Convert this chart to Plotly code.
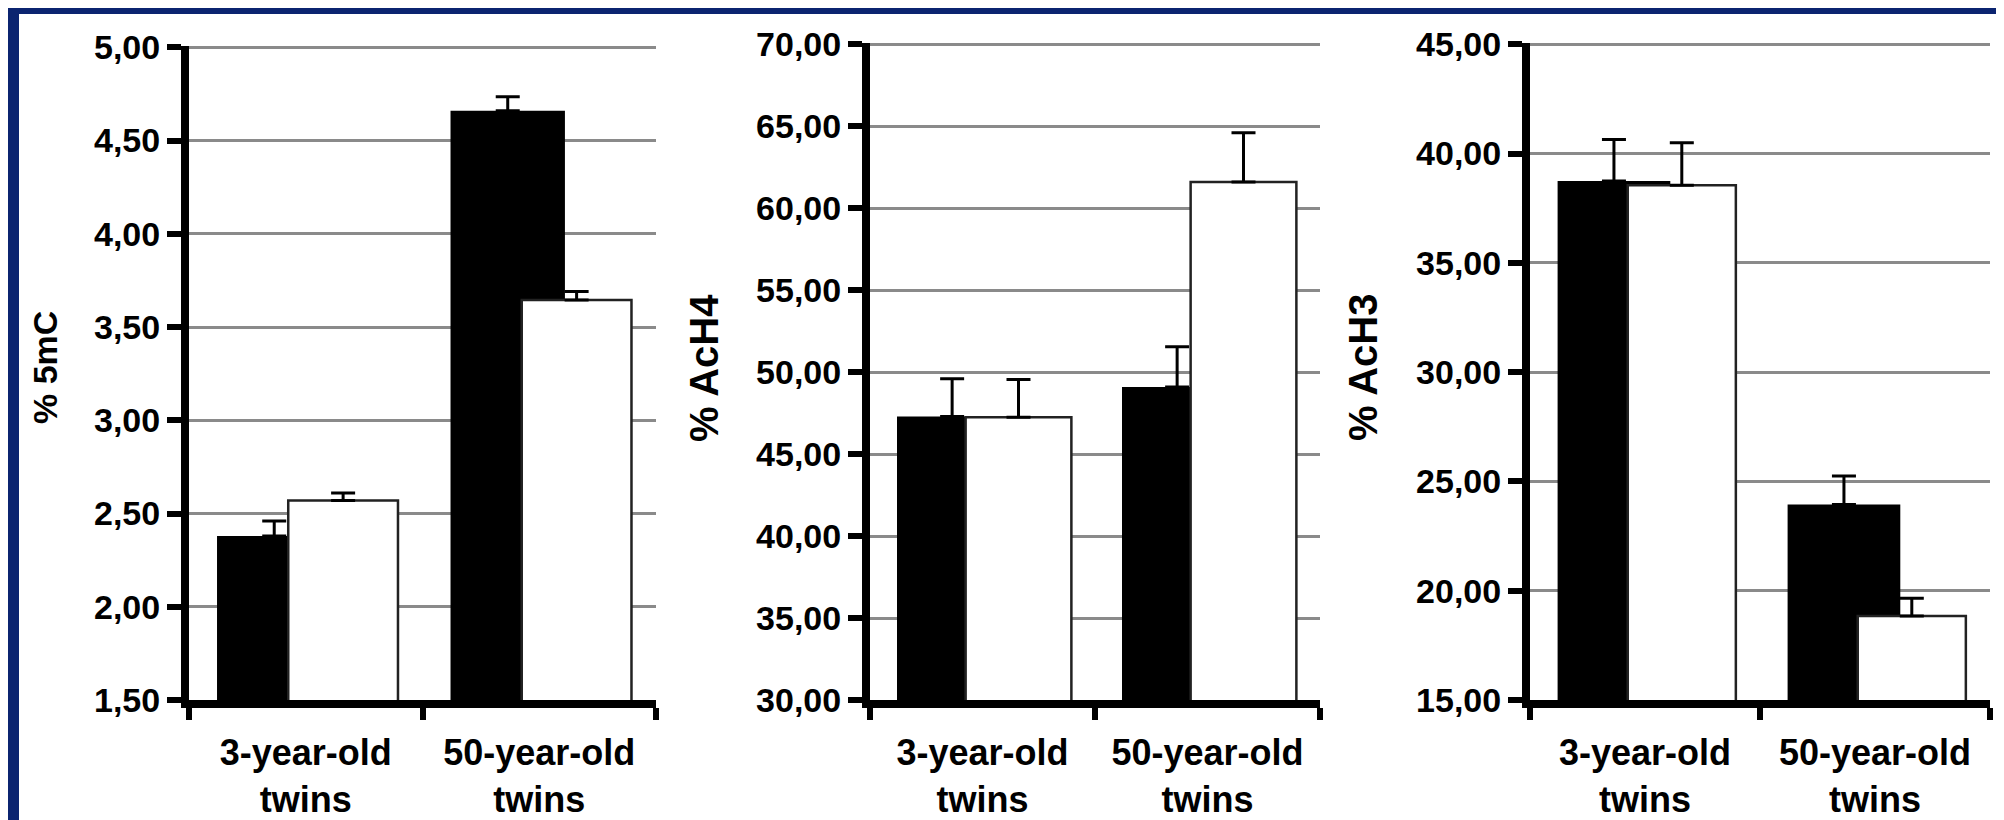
import plotly.graph_objects as go

categories = ["3-year-old<br>twins", "50-year-old<br>twins"]

mc_black = [2.38, 4.66]
mc_black_err = [0.08, 0.075]
mc_white = [2.57, 3.645]
mc_white_err = [0.04, 0.045]

ach4_black = [47.3, 49.1]
ach4_black_err = [2.3, 2.45]
ach4_white = [47.25, 61.6]
ach4_white_err = [2.3, 3.0]

ach3_black = [38.75, 23.95]
ach3_black_err = [1.9, 1.3]
ach3_white = [38.55, 18.84]
ach3_white_err = [1.95, 0.82]

y_titles = ["% 5mC", "% AcH4", "% AcH3"]
y_title_sizes = [34, 40, 40]
y_ranges = [[1.5, 5.0], [30, 70], [15, 45]]
y_dticks = [0.5, 5, 5]

W, H = 2004, 820
FONT = "Liberation Sans, Arial, sans-serif"
NAVY = "#0B2470"

# plot-area boxes in pixels: left, right, top, bottom
boxes = [(181, 648, 38, 692), (862, 1312, 35, 692), (1522, 1982, 35, 692)]
title_x = [37, 696, 1355]

series = [
    (mc_black, mc_black_err, mc_white, mc_white_err),
    (ach4_black, ach4_black_err, ach4_white, ach4_white_err),
    (ach3_black, ach3_black_err, ach3_white, ach3_white_err),
]

fig = go.Figure()
layout = {}
annotations = []
for i, (bv, be, wv, we) in enumerate(series):
    n = "" if i == 0 else str(i + 1)
    xa, ya = "x" + n, "y" + n
    fig.add_trace(go.Bar(
        x=categories, y=bv, xaxis=xa, yaxis=ya,
        offset=-0.38, width=0.49,
        marker=dict(color="black", line=dict(color="black", width=0)),
        error_y=dict(type="data", array=be, arrayminus=[0] * len(be), symmetric=False,
                     color="black", thickness=3, width=12),
        showlegend=False,
    ))
    fig.add_trace(go.Bar(
        x=categories, y=wv, xaxis=xa, yaxis=ya,
        offset=-0.075, width=0.47,
        marker=dict(color="white", line=dict(color="#222222", width=2.5)),
        error_y=dict(type="data", array=we, arrayminus=[0] * len(we), symmetric=False,
                     color="black", thickness=3, width=12),
        showlegend=False,
    ))
    l, r, t, b = boxes[i]
    layout["xaxis" + n] = dict(
        domain=[l / W, r / W], anchor=ya, type="category",
        showline=True, linecolor="black", linewidth=8,
        ticks="outside", tickson="boundaries", ticklen=12, tickwidth=6, tickcolor="black",
        showgrid=False, ticklabelstandoff=14,
        tickfont=dict(family=FONT, size=36, color="black", weight="bold"),
        range=[-0.5, 1.5], fixedrange=True,
    )
    lo, hi = y_ranges[i]
    layout["yaxis" + n] = dict(
        domain=[1 - b / H, 1 - t / H], anchor=xa,
        range=[lo, hi + (hi - lo) * 0.002], dtick=y_dticks[i], tick0=lo, tickformat=".2f",
        showline=True, linecolor="black", linewidth=8,
        ticks="outside", ticklen=14, tickwidth=6, tickcolor="black",
        showgrid=True, gridcolor="#8a8a8a", gridwidth=3, zeroline=False,
        tickfont=dict(family=FONT, size=34, color="black", weight="bold"),
    )
    annotations.append(dict(
        text="<b>" + y_titles[i] + "</b>", xref="paper", yref="paper",
        x=title_x[i] / W, y=1 - 360 / H, xanchor="center", yanchor="middle",
        textangle=-90, showarrow=False,
        font=dict(family=FONT, size=y_title_sizes[i], color="black"),
    ))

fig.update_layout(
    width=W, height=H,
    margin=dict(l=0, r=0, t=0, b=0, autoexpand=False),
    paper_bgcolor=NAVY, plot_bgcolor="white",
    barmode="overlay", separators=",.",
    annotations=annotations,
    shapes=[dict(type="rect", xref="paper", yref="paper",
                 x0=11 / W, x1=1996 / W, y0=0, y1=1 - 6 / H,
                 fillcolor="white", line=dict(width=0), layer="below")],
    **layout,
)

fig.write_html("out.html")
